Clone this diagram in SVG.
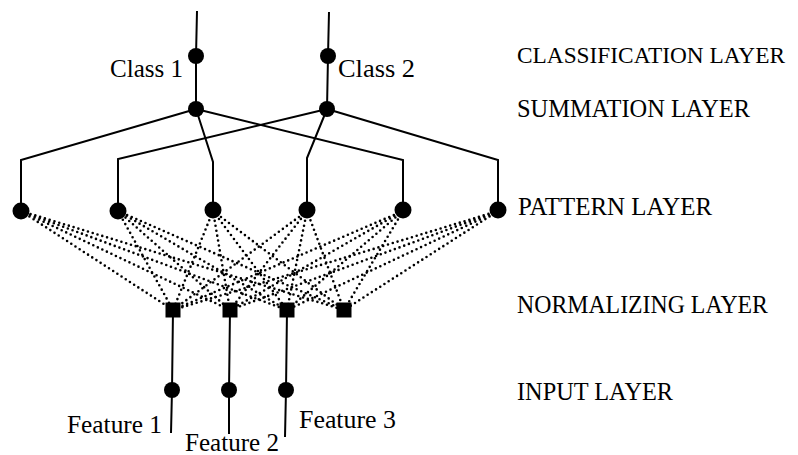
<svg xmlns="http://www.w3.org/2000/svg" width="798" height="455" viewBox="0 0 798 455">
<style>
.s{stroke:#000;stroke-width:2;fill:none}
.d{stroke:#000;stroke-width:2.6;fill:none;stroke-dasharray:0 5;stroke-linecap:round}
.n{fill:#000}
text{font-family:"Liberation Serif","Times New Roman",serif;font-size:25px;fill:#000}
</style>
<rect width="798" height="455" fill="#fff"/>
<g id="connectors">
<path class="s" d="M197 11 L196 56 L196 109"/>
<path class="s" d="M329 12 L328 56 L327 109"/>
<path class="s" d="M196 109 L21 160 L21 211"/>
<path class="s" d="M196 109 L213 162 L213 211"/>
<path class="s" d="M196 109 L403 160 L403 211"/>
<path class="s" d="M327 109 L118 159 L118 211"/>
<path class="s" d="M327 109 L307 158 L307 211"/>
<path class="s" d="M327 109 L498 160 L498 211"/>
<g id="dotted">
<path class="d" d="M21 211 L173 310 M21 211 L230 310 M21 211 L287 310 M21 211 L344 310"/>
<path class="d" d="M118 211 L173 310 M118 211 L230 310 M118 211 L287 310 M118 211 L344 310"/>
<path class="d" d="M213 211 L173 310 M213 211 L230 310 M213 211 L287 310 M213 211 L344 310"/>
<path class="d" d="M307 211 L173 310 M307 211 L230 310 M307 211 L287 310 M307 211 L344 310"/>
<path class="d" d="M403 211 L173 310 M403 211 L230 310 M403 211 L287 310 M403 211 L344 310"/>
<path class="d" d="M498 211 L173 310 M498 211 L230 310 M498 211 L287 310 M498 211 L344 310"/>
</g>
<path class="s" d="M173 310 L172 390 L171 433"/>
<path class="s" d="M230 310 L229 390 L229 434"/>
<path class="s" d="M287 310 L286 390 L285 437"/>
</g>
<g id="class1"><circle class="n" cx="196" cy="56" r="8"/><text x="110" y="77" textLength="73" lengthAdjust="spacingAndGlyphs">Class 1</text></g>
<g id="class2"><circle class="n" cx="328" cy="56" r="8"/><text x="338" y="77" textLength="77" lengthAdjust="spacingAndGlyphs">Class 2</text></g>
<g id="sum1"><circle class="n" cx="196" cy="109" r="8"/></g>
<g id="sum2"><circle class="n" cx="327" cy="109" r="8"/></g>
<g id="p1"><circle class="n" cx="21" cy="211" r="8.5"/></g>
<g id="p2"><circle class="n" cx="118" cy="211" r="8.5"/></g>
<g id="p3"><circle class="n" cx="213" cy="210" r="8.5"/></g>
<g id="p4"><circle class="n" cx="307" cy="210" r="8.5"/></g>
<g id="p5"><circle class="n" cx="403" cy="210" r="8.5"/></g>
<g id="p6"><circle class="n" cx="498" cy="210" r="8.5"/></g>
<g id="n1"><rect class="n" x="165.5" y="302.5" width="15" height="15"/></g>
<g id="n2"><rect class="n" x="222.5" y="302.5" width="15" height="15"/></g>
<g id="n3"><rect class="n" x="279.5" y="302.5" width="15" height="15"/></g>
<g id="n4"><rect class="n" x="336.5" y="302.5" width="15" height="15"/></g>
<g id="i1"><circle class="n" cx="172" cy="390" r="8"/><text x="67" y="433" textLength="95" lengthAdjust="spacingAndGlyphs">Feature 1</text></g>
<g id="i2"><circle class="n" cx="229" cy="390" r="8"/><text x="185" y="451" textLength="94" lengthAdjust="spacingAndGlyphs">Feature 2</text></g>
<g id="i3"><circle class="n" cx="286" cy="390" r="8"/><text x="299" y="428" textLength="97" lengthAdjust="spacingAndGlyphs">Feature 3</text></g>
<g id="labels">
<text x="517" y="63" style="font-size:23.5px" textLength="268" lengthAdjust="spacingAndGlyphs">CLASSIFICATION LAYER</text>
<text x="517" y="117" textLength="233" lengthAdjust="spacingAndGlyphs">SUMMATION LAYER</text>
<text x="518" y="215" textLength="194" lengthAdjust="spacingAndGlyphs">PATTERN LAYER</text>
<text x="517" y="313" textLength="251" lengthAdjust="spacingAndGlyphs">NORMALIZING LAYER</text>
<text x="517" y="400" textLength="156" lengthAdjust="spacingAndGlyphs">INPUT LAYER</text>
</g>
</svg>
